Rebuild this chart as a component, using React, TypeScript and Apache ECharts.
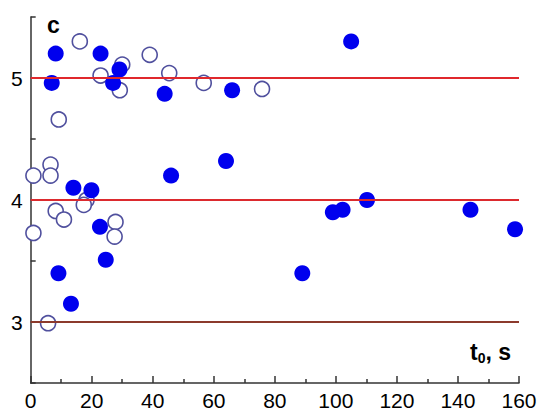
import React, { useEffect, useRef } from "react";
import * as echarts from "echarts";

const filledX = [8.2, 6.9, 22.9, 29.1, 27.0, 43.9, 66.0, 105.0, 14.0, 19.9, 22.7, 24.6, 9.1, 46.0, 13.2, 64.0, 89.0, 99.0, 102.2, 110.2, 144.1, 158.7];
const filledY = [5.2, 4.96, 5.2, 5.07, 4.96, 4.87, 4.9, 5.3, 4.1, 4.08, 3.78, 3.51, 3.4, 4.2, 3.15, 4.32, 3.4, 3.9, 3.92, 4.0, 3.92, 3.76];
const openX = [16.1, 22.9, 30.0, 29.2, 39.0, 45.4, 9.2, 56.7, 75.8, 0.9, 6.5, 6.5, 18.3, 17.4, 8.2, 10.9, 0.9, 27.8, 27.5, 5.7];
const openY = [5.3, 5.02, 5.11, 4.9, 5.19, 5.04, 4.66, 4.96, 4.91, 4.2, 4.29, 4.2, 4.0, 3.96, 3.91, 3.84, 3.73, 3.82, 3.7, 2.99];
const levels = [5, 4, 3];
const levelColors = ["#e0282c", "#dc2a2e", "#8c3a2c"];
const xTicks = [0, 20, 40, 60, 80, 100, 120, 140, 160];
const yLabels = [3, 4, 5];

export default function App() {
  const ref = useRef<HTMLDivElement>(null);
  useEffect(() => {
    if (!ref.current) return;
    const chart = echarts.init(ref.current, null, { renderer: "svg" });
    const font = "'Liberation Sans', Arial, sans-serif";
    chart.setOption({
      animation: false,
      backgroundColor: "#ffffff",
      grid: { left: 22, right: 23, top: 9, bottom: 28, containLabel: false },
      xAxis: {
        type: "value",
        min: xTicks[0],
        max: xTicks[xTicks.length - 1],
        interval: 20,
        axisLine: { show: true, onZero: false, lineStyle: { color: "#333", width: 1.5 } },
        axisTick: { show: true, inside: true, length: 7, lineStyle: { color: "#333", width: 1.5 } },
        minorTick: { show: true, splitNumber: 2, length: 4, lineStyle: { color: "#333", width: 1.5 } },
        splitLine: { show: false },
        axisLabel: { color: "#000", fontSize: 21, fontFamily: font, margin: 7 },
      },
      yAxis: {
        type: "value",
        min: 2.5,
        max: 5.5,
        interval: 0.5,
        axisLine: { show: true, onZero: false, lineStyle: { color: "#333", width: 1.5 } },
        axisTick: { show: true, inside: true, length: 5, lineStyle: { color: "#333", width: 1.5 } },
        splitLine: { show: false },
        axisLabel: {
          color: "#000",
          fontSize: 21,
          fontFamily: font,
          margin: 8,
          formatter: (v: number) => (yLabels.includes(v) ? String(v) : ""),
        },
      },
      graphic: [
        {
          type: "text",
          left: 39,
          top: 5,
          style: { text: "c", font: `bold 23px ${font}`, fill: "#000" },
        },
        {
          type: "text",
          left: 462,
          top: 332,
          style: {
            text: "{t|t}{sub|0}{t|, s}",
            rich: {
              t: { font: `bold 23px ${font}`, fill: "#000" },
              sub: { font: `bold 14px ${font}`, fill: "#000", padding: [13, 0, 0, 0] },
            },
          },
        },
      ],
      series: [
        {
          type: "scatter",
          data: [],
          markLine: {
            silent: true,
            symbol: "none",
            label: { show: false },
            data: levels.map((l, i) => ({
              yAxis: l,
              lineStyle: { color: levelColors[i], width: 2, type: "solid" },
            })),
          },
        },
        {
          type: "scatter",
          symbolSize: 15,
          data: openX.map((x, i) => [x, openY[i]]),
          itemStyle: { color: "#ffffff", borderColor: "#50509e", borderWidth: 1.6, opacity: 1 },
          clip: false,
          z: 3,
        },
        {
          type: "scatter",
          symbolSize: 16,
          data: filledX.map((x, i) => [x, filledY[i]]),
          itemStyle: { color: "#0000ee", opacity: 1 },
          clip: false,
          z: 4,
        },
      ],
    });
    return () => chart.dispose();
  }, []);
  return <div ref={ref} style={{ width: 534, height: 403 }} />;
}
